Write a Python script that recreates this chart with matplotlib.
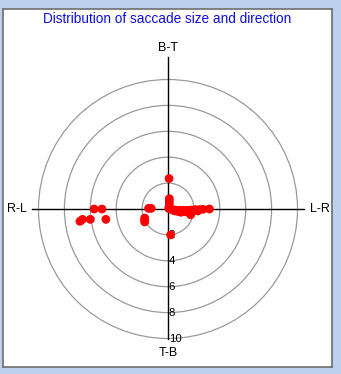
import matplotlib
matplotlib.use("Agg")
import matplotlib.pyplot as plt
from matplotlib.patches import Circle

title = "Distribution of saccade size and direction"
ring_radii = [2, 4, 6, 8, 10]
tick_labels = ["2", "4", "6", "8", "10"]
dir_labels = ["B-T", "T-B", "R-L", "L-R"]

# saccade end points (x: horizontal size, y: vertical size)
sacc_x = [0.1, 0.1, 0.1, 0.1, 0.05,
          0.3, 0.6, 0.9, 1.2, 1.5, 1.8, 2.1, 2.4, 2.7,
          0.5, 0.8, 1.0, 1.3, 1.7, 1.75, 2.3, 2.0,
          3.2, 0.08, 0.2,
          -1.5, -1.3, -1.8, -1.8, -1.8,
          -5.7, -5.1, -6.0, -4.8, -6.6, -6.8]
sacc_y = [0.8, 0.6, 0.4, 0.2, 0.05,
          -0.05, -0.08, -0.1, -0.1, -0.1, -0.08, -0.05, -0.05, -0.02,
          -0.15, -0.2, -0.25, -0.2, -0.35, -0.45, -0.15, -0.12,
          0.0, 2.35, -2.0,
          0.05, 0.05, -0.7, -0.85, -1.0,
          0.0, 0.0, -0.8, -0.8, -0.8, -0.95]

W, H = 341, 374
fig = plt.figure(figsize=(W / 100, H / 100), dpi=100)
fig.patch.set_facecolor("#bcd2ec")

cx, cy = 168, 209
scale = 12.95
L, R, T, B = 3, 332, 9, 367
ax = fig.add_axes([L / W, (H - B) / H, (R - L) / W, (B - T) / H])
ax.set_facecolor("white")
ax.set_xlim((L - cx) / scale, (R - cx) / scale)
ax.set_ylim((cy - B) / scale, (cy - T) / scale)
ax.set_xticks([])
ax.set_yticks([])
for s in ax.spines.values():
    s.set_color("#6e6e6e")
    s.set_linewidth(1.2)

for r in ring_radii:
    ax.add_patch(Circle((0, 0), r, fill=False, edgecolor="#9a9a9a", lw=0.9, zorder=1))

ax.plot([-10.5, 10.5], [0, 0], color="black", lw=1.0, zorder=2)
ax.plot([0, 0], [-10, 11.7], color="black", lw=1.0, zorder=2)

for r, lab in zip(ring_radii, tick_labels):
    ax.text(0.05, -r, lab, ha="left", va="center", fontsize=8.2,
            family="Liberation Sans", color="black", zorder=3)

ax.scatter(sacc_x, sacc_y, s=40, color="#ff0000", edgecolors="none", zorder=4)

fs = 9
ax.text(0, (cy - 48) / scale, dir_labels[0], ha="center", va="center", fontsize=fs,
        family="Liberation Sans")
ax.text(0, (cy - 353) / scale, dir_labels[1], ha="center", va="center", fontsize=fs,
        family="Liberation Sans")
ax.text((17 - cx) / scale, 0, dir_labels[2], ha="center", va="center", fontsize=fs,
        family="Liberation Sans")
ax.text((320 - cx) / scale, 0, dir_labels[3], ha="center", va="center", fontsize=fs,
        family="Liberation Sans")

fig.text(167 / W, 1 - 19 / H, title, ha="center", va="center", fontsize=9.8,
         color="#1010e0", family="Liberation Sans")

fig.savefig("out.png", dpi=100, facecolor=fig.get_facecolor())
